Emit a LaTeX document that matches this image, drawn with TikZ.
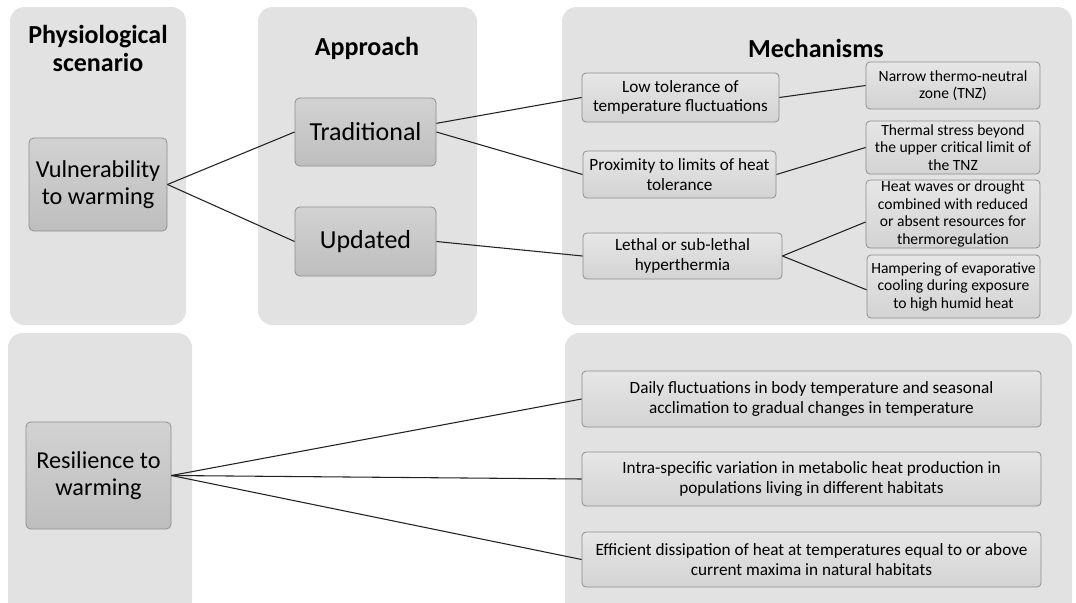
\documentclass[tikz,border=0pt]{standalone}
\usepackage{fontspec}
\setmainfont{Carlito}
\definecolor{panelgray}{HTML}{E2E2E2}
\definecolor{edgegray}{HTML}{8E8E8E}
\definecolor{bigtop}{HTML}{D2D2D2}
\definecolor{bigbot}{HTML}{BEBEBE}
\definecolor{smtop}{HTML}{E6E6E6}
\definecolor{smbot}{HTML}{D3D3D3}
\definecolor{linegray}{HTML}{222222}
\newcommand\pxbox[7]{%
  \node[#1, minimum width={(#5-#3)*0.75pt}, minimum height={(#6-#4)*0.75pt}]
    (#2) at ({(#3+#5)/2},{(#4+#6)/2}) {#7};}
\newcommand\pxpanel[4]{%
  \fill[panelgray, rounded corners=11pt] (#1,#2) rectangle (#3,#4);}
\begin{document}
\begin{tikzpicture}[x=0.75pt,y=-0.75pt,
  header/.style={font=\fontsize{19.5}{21}\selectfont\bfseries, align=center, inner sep=0pt},
  bigbox/.style={draw=edgegray, line width=0.6pt, rounded corners=3.5pt, top color=bigtop, bottom color=bigbot,
     align=center, inner sep=0pt, font=\fontsize{18.2}{20}\selectfont},
  trbox/.style={bigbox, font=\fontsize{19.5}{21}\selectfont},
  smbox/.style={draw=edgegray, line width=0.6pt, rounded corners=3pt, top color=smtop, bottom color=smbot,
     align=center, inner sep=0pt, font=\fontsize{12.9}{14.6}\selectfont},
  tightbox/.style={smbox, font=\fontsize{11.7}{13.1}\selectfont},
  conn/.style={draw=linegray, line width=0.8pt}]
\useasboundingbox (0,0) rectangle (1076,603);
\fill[white] (0,0) rectangle (1076,603);
% panels
\pxpanel{10}{7}{186}{325}
\pxpanel{258}{7}{477}{325}
\pxpanel{562}{7}{1072}{325}
\pxpanel{8}{333}{192}{615}
\pxpanel{565}{333}{1072}{615}
% headers
\node[header] (h1) at (98,48) {Physiological\\scenario};
\node[header] (h2) at (367,48) {Approach};
\node[header] (h3) at (816,48) {Mechanisms};
% top boxes
\pxbox{bigbox}{vul}{29}{138}{167}{231}{Vulnerability\\to warming}
\pxbox{trbox}{trad}{295}{98}{436}{166}{Traditional}
\pxbox{trbox}{upd}{295}{207}{436}{276}{Updated}
\pxbox{smbox}{low}{582}{73}{779}{122}{Low tolerance of\\temperature fluctuations}
\pxbox{smbox}{prox}{583}{151}{776}{198}{Proximity to limits of heat\\tolerance}
\pxbox{smbox}{leth}{583}{233}{782}{279}{Lethal or sub-lethal\\hyperthermia}
\pxbox{tightbox}{narrow}{866}{62}{1040}{109}{Narrow thermo-neutral\\zone (TNZ)}
\pxbox{tightbox}{therm}{866}{121}{1040}{174}{Thermal stress beyond\\the upper critical limit of\\the TNZ}
\pxbox{tightbox}{waves}{866}{180}{1040}{248}{Heat waves or drought\\combined with reduced\\or absent resources for\\thermoregulation}
\pxbox{tightbox}{hamp}{867}{255}{1040}{318}{Hampering of evaporative\\cooling during exposure\\to high humid heat}
% bottom boxes
\pxbox{bigbox}{res}{26}{422}{171}{529}{Resilience to\\warming}
\pxbox{smbox}{daily}{582}{371}{1041}{427}{Daily fluctuations in body temperature and seasonal\\acclimation to gradual changes in temperature}
\pxbox{smbox}{intra}{582}{452}{1041}{506}{Intra-specific variation in metabolic heat production in\\populations living in different habitats}
\pxbox{smbox}{eff}{582}{532}{1041}{587}{Efficient dissipation of heat at temperatures equal to or above\\current maxima in natural habitats}
% connectors
\draw[conn] (vul.east) -- (trad.west);
\draw[conn] (vul.east) -- (upd.west);
\draw[conn] ([yshift=6.5pt]trad.east) -- (low.west);
\draw[conn] (trad.east) -- (prox.west);
\draw[conn] (upd.east) -- (leth.west);
\draw[conn] (low.east) -- (narrow.west);
\draw[conn] (prox.east) -- (therm.west);
\draw[conn] (leth.east) -- ([yshift=-6pt]waves.west);
\draw[conn] (leth.east) -- ([yshift=-2.5pt]hamp.west);
\draw[conn] (res.east) -- (daily.west);
\draw[conn] (res.east) -- (intra.west);
\draw[conn] (res.east) -- (eff.west);
\end{tikzpicture}
\end{document}
